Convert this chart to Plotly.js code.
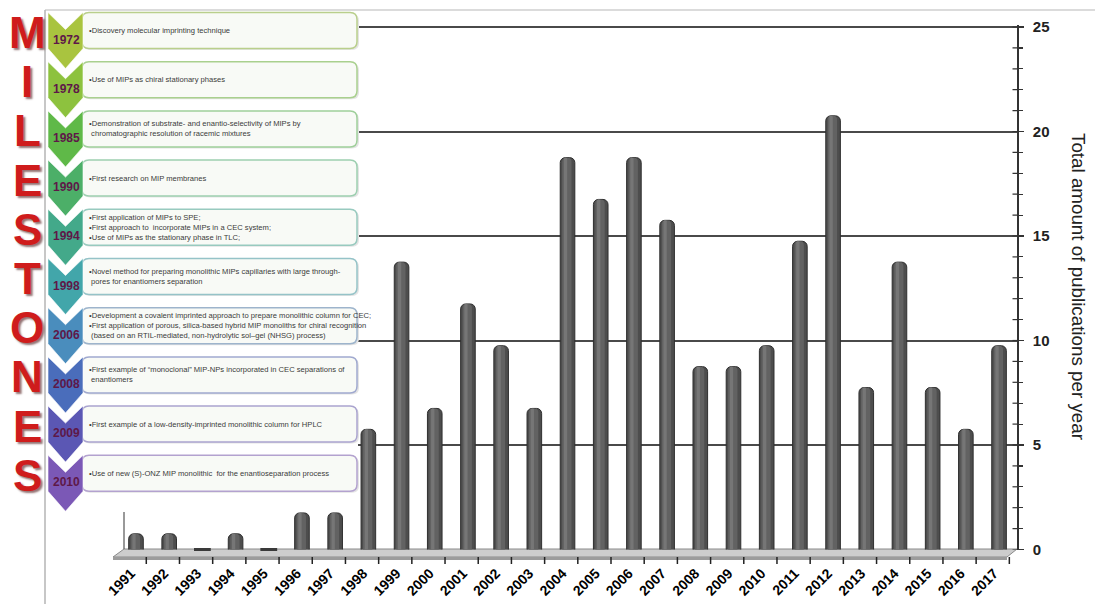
<!DOCTYPE html>
<html>
<head>
<meta charset="utf-8">
<script src="https://cdn.plot.ly/plotly-3.0.1.min.js"></script>
<style>html,body{margin:0;padding:0;background:#fff;}#chart{width:1095px;height:604px;}</style>
</head>
<body>
<div id="chart"></div>
<script>
// ---------- data ----------
const years = ['1991','1992','1993','1994','1995','1996','1997','1998','1999','2000','2001','2002','2003','2004','2005','2006','2007','2008','2009','2010','2011','2012','2013','2014','2015','2016','2017'];
const publications = [1,1,0,1,0,2,2,6,14,7,12,10,7,19,17,19,16,9,9,10,15,21,8,14,8,6,10];
const yTickVals = [0,5,10,15,20,25];
const yTitle = 'Total amount of publications per year';
const milestoneLetters = ['M','I','L','E','S','T','O','N','E','S'];
const milestoneYears = ['1972','1978','1985','1990','1994','1998','2006','2008','2009','2010'];
const milestoneTexts = [
  '•Discovery molecular imprinting technique',
  '•Use of MIPs as chiral stationary phases',
  '•Demonstration of substrate- and enantio-selectivity of MIPs by<br> chromatographic resolution of racemic mixtures',
  '•First research on MIP membranes',
  '•First application of MIPs to SPE;<br>•First approach to  incorporate MIPs in a CEC system;<br>•Use of MIPs as the stationary phase in TLC;',
  '•Novel method for preparing monolithic MIPs capillaries with large through-<br> pores for enantiomers separation',
  '•Development a covalent imprinted approach to prepare monolithic column for CEC;<br>•First application of porous, silica-based hybrid MIP monoliths for chiral recognition<br> (based on an RTIL-mediated, non-hydrolytic sol–gel (NHSG) process)',
  '•First example of “monoclonal” MIP-NPs incorporated in CEC separations of<br> enantiomers',
  '•First example of a low-density-imprinted monolithic column for HPLC',
  '•Use of new (S)-ONZ MIP monolithic  for the enantioseparation process'
];

// ---------- styling ----------
const W = 1095, H = 604;
const X = p => p / W;
const Y = p => 1 - p / H;
const chevColors = ['#a9c43f','#8dc23e','#5fb948','#4caf68','#43a98a','#42a6aa','#4a8dbd','#4a6dbb','#5b57b4','#7b58b6'];
const boxBorders = ['#b9cf8c','#a9d08e','#9fcf9a','#9dcfb0','#98cabf','#95c3c8','#9db4cc','#a0a9cf','#aaa4cf','#b3a2cf'];
const BASE = -0.25;
const Y_MAX = 25.1;

const zeroCaps = publications.map(v => v === 0 ? v : null);

const traces = [
  {type:'bar', x:years, y:publications, base:BASE, width:0.44,
   marker:{color:'#4d4d4d', line:{color:'#2f2f2f', width:1}, cornerradius:5},
   hoverinfo:'x+y', showlegend:false},
  {type:'bar', x:years, y:publications, base:BASE, width:0.28, offset:-0.16,
   marker:{color:'#626262', cornerradius:4}, hoverinfo:'skip', showlegend:false},
  {type:'bar', x:years, y:publications, base:BASE, width:0.1, offset:-0.11,
   marker:{color:'#767676', cornerradius:2}, hoverinfo:'skip', showlegend:false},
  {type:'scatter', x:years, y:zeroCaps, mode:'markers', cliponaxis:false,
   marker:{symbol:'line-ew', size:12, color:'#3a3a3a', line:{color:'#3a3a3a', width:3}}, hoverinfo:'skip', showlegend:false}
];

const shapes = [];
const annotations = [];

// white cover behind boxes
shapes.push({type:'rect', xref:'paper', yref:'paper', x0:X(84), x1:X(358), y0:Y(500), y1:Y(11),
  fillcolor:'#ffffff', line:{width:0}, layer:'above'});
// frame lines
shapes.push({type:'line', xref:'paper', yref:'paper', x0:X(45), x1:X(1095), y0:Y(10), y1:Y(10), line:{color:'#cfcfcf', width:1.5}, layer:'above'});
shapes.push({type:'line', xref:'paper', yref:'paper', x0:X(45), x1:X(45), y0:Y(10), y1:Y(604), line:{color:'#b5b5b5', width:1.5}, layer:'above'});

function roundRect(x0, y0, x1, y1, r) {
  return `M${X(x0+r)},${Y(y0)} L${X(x1-r)},${Y(y0)} Q${X(x1)},${Y(y0)} ${X(x1)},${Y(y0+r)} ` +
         `L${X(x1)},${Y(y1-r)} Q${X(x1)},${Y(y1)} ${X(x1-r)},${Y(y1)} L${X(x0+r)},${Y(y1)} ` +
         `Q${X(x0)},${Y(y1)} ${X(x0)},${Y(y1-r)} L${X(x0)},${Y(y0+r)} Q${X(x0)},${Y(y0)} ${X(x0+r)},${Y(y0)} Z`;
}

milestoneYears.forEach((yr, i) => {
  const top = 12.5 + 49.2 * i;
  const bot = top + 36;
  const mid = (top + bot) / 2;
  shapes.push({type:'path', xref:'paper', yref:'paper', path:roundRect(83, top+1.5, 359, bot+1.5, 7),
    fillcolor:'#e4e4e4', line:{width:0}, layer:'above'});
  shapes.push({type:'path', xref:'paper', yref:'paper', path:roundRect(82, top, 357, bot, 7),
    fillcolor:'#f8faf6', line:{color:boxBorders[i], width:1.5}, layer:'above'});
  const cx0 = 48, cx1 = 83, cm = 65.5;
  const p = `M${X(cx0)},${Y(top)} L${X(cm)},${Y(top+17)} L${X(cx1)},${Y(top)} L${X(cx1)},${Y(top+36)} ` +
            `L${X(cm)},${Y(top+56)} L${X(cx0)},${Y(top+36)} Z`;
  shapes.push({type:'path', xref:'paper', yref:'paper', path:p,
    fillcolor:chevColors[i], line:{color:'rgba(255,255,255,0.6)', width:1}, layer:'above'});
  annotations.push({xref:'paper', yref:'paper', x:X(66), y:Y(top+27), text:yr, showarrow:false,
    xanchor:'center', yanchor:'middle',
    font:{family:'Liberation Sans Narrow, Liberation Sans, Arial', size:12, color:'#5e1848', weight:700}});
  annotations.push({xref:'paper', yref:'paper', x:X(87), y:Y(mid), text:milestoneTexts[i], showarrow:false,
    xanchor:'left', yanchor:'middle', align:'left',
    font:{family:'Liberation Sans, Arial', size:7.6, color:'#3a3a3a'}});
  annotations.push({xref:'paper', yref:'paper', x:X(27), y:Y(mid+2), text:milestoneLetters[i], showarrow:false,
    xanchor:'center', yanchor:'middle',
    font:{family:'Liberation Sans, Arial', size:44, color:'#cf1c1c', weight:700,
          shadow:'2px 2px 2px rgba(60,0,0,0.55)'}});
});

// floor (3D slab)
shapes.push({type:'path', xref:'paper', yref:'paper',
  path:`M${X(113)},${Y(557)} L${X(124)},${Y(549)} L${X(1017)},${Y(549)} L${X(1007)},${Y(557)} Z`,
  fillcolor:'#cdcdcd', line:{color:'#8a8a8a', width:1}, layer:'below'});
shapes.push({type:'rect', xref:'paper', yref:'paper', x0:X(113), x1:X(1007), y0:Y(560), y1:Y(557),
  fillcolor:'#9c9c9c', line:{width:0}, layer:'below'});
shapes.push({type:'line', xref:'paper', yref:'paper', x0:X(124), x1:X(124), y0:Y(512), y1:Y(549),
  line:{color:'#555', width:1.2}, layer:'below'});
for (let k = 0; k <= years.length; k++) {
  shapes.push({type:'line', xref:'x', yref:'paper', x0:k-0.69, x1:k-0.69, y0:Y(557), y1:Y(564),
    line:{color:'#222', width:1.5}, layer:'above'});
}
// inner half of the y-axis minor/major ticks (ticks cross the axis line)
for (let v = 0; v <= 25; v++) {
  shapes.push({type:'line', xref:'paper', yref:'y', x0:X(1012.5), x1:X(1017.3), y0:v, y1:v,
    line:{color:'#333', width:1.2}, layer:'above'});
}

annotations.push({xref:'paper', yref:'paper', x:X(1079), y:Y(286), text:yTitle, showarrow:false,
  textangle:90, xanchor:'center', yanchor:'middle',
  font:{family:'Liberation Sans, Arial', size:18.8, color:'#222'}});

const pxPerUnit = (549.5 - 27) / 25;
const yDomain = [(H-549.5)/H, (H-(549.5 - Y_MAX*pxPerUnit))/H];
const layout = {
  width:W, height:H,
  margin:{l:0, r:0, t:0, b:0},
  paper_bgcolor:'#ffffff', plot_bgcolor:'rgba(0,0,0,0)',
  barmode:'overlay', showlegend:false,
  xaxis:{domain:[119.4/W, 1017.3/W], type:'category', range:[-0.5, 26.55],
    showgrid:false, showline:false, zeroline:false, ticks:'', tickangle:-45,
    ticklabelstandoff:12, ticklabelshift:-5,
    tickfont:{family:'Liberation Sans, Arial', size:14, color:'#000', weight:700}},
  yaxis:{domain:yDomain, range:[0,Y_MAX], side:'right', tickvals:yTickVals,
    showline:true, linecolor:'#333', linewidth:1.5, zeroline:false,
    showgrid:true, gridcolor:'#4a4a4a', gridwidth:2,
    ticks:'outside', ticklen:5, tickwidth:1.5, tickcolor:'#333', ticklabelstandoff:6,
    minor:{dtick:1, ticks:'outside', ticklen:4, tickwidth:1.2, tickcolor:'#333', showgrid:false},
    tickfont:{family:'Liberation Sans, Arial', size:15, color:'#222', weight:700}},
  shapes:shapes, annotations:annotations
};

Plotly.newPlot('chart', traces, layout, {displayModeBar:false, staticPlot:true});
</script>
</body>
</html>
